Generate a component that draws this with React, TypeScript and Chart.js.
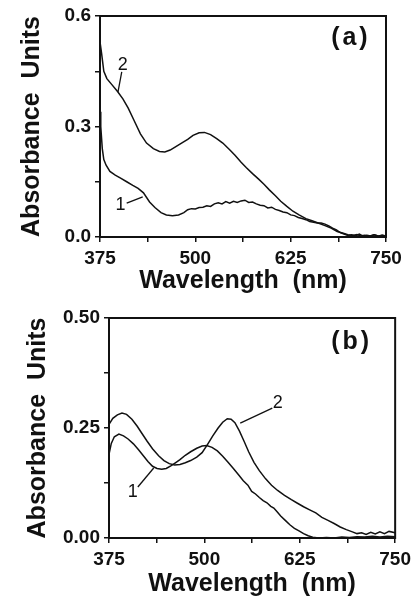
import React, { useEffect, useRef } from "react";
import { Chart, registerables } from "chart.js";

Chart.register(...registerables);

// ---------- Panel (a) ----------
const aWave2 = [375, 377, 380, 384, 390, 398, 405, 412, 420, 428, 436, 445, 453, 460, 467, 475, 483, 490, 497, 505, 512, 520, 528, 536, 545, 552, 560, 567, 575, 583, 590, 597, 605, 612, 620, 628, 636, 645, 653, 661, 670, 678, 686, 694, 700, 706, 712, 716, 722, 728, 734, 740, 745, 750];
const aAbs2 = [0.53, 0.5, 0.45, 0.43, 0.415, 0.395, 0.375, 0.35, 0.315, 0.28, 0.255, 0.24, 0.232, 0.231, 0.236, 0.246, 0.256, 0.265, 0.276, 0.283, 0.284, 0.278, 0.267, 0.255, 0.237, 0.222, 0.203, 0.188, 0.172, 0.157, 0.143, 0.128, 0.112, 0.097, 0.083, 0.07, 0.06, 0.05, 0.044, 0.038, 0.031, 0.024, 0.015, 0.01, 0.006, 0.004, 0.007, 0.003, 0.005, 0.002, 0.006, 0.003, 0.005, 0.003];

const aWave1 = [375, 376, 378, 380, 383, 388, 395, 402, 410, 418, 425, 432, 440, 447, 455, 462, 470, 478, 485, 490, 495, 500, 505, 510, 515, 520, 525, 530, 535, 540, 545, 550, 555, 560, 565, 570, 575, 580, 585, 590, 595, 600, 605, 610, 615, 620, 625, 630, 635, 640, 645, 650, 655, 660, 665, 670, 675, 680, 685, 690, 695, 700, 705, 710, 715, 720, 725, 730, 735, 740, 745, 750];
const aAbs1 = [0.34, 0.3, 0.24, 0.21, 0.195, 0.178, 0.168, 0.16, 0.15, 0.14, 0.132, 0.12, 0.095, 0.08, 0.066, 0.06, 0.058, 0.06, 0.066, 0.074, 0.077, 0.076, 0.08, 0.081, 0.085, 0.083, 0.09, 0.093, 0.09, 0.096, 0.092, 0.097, 0.094, 0.098, 0.1, 0.094, 0.095, 0.09, 0.086, 0.085, 0.079, 0.081, 0.075, 0.072, 0.068, 0.066, 0.06, 0.058, 0.053, 0.05, 0.047, 0.042, 0.04, 0.038, 0.038, 0.035, 0.03, 0.024, 0.019, 0.012, 0.008, 0.004, 0.006, 0.003, 0.008, 0.002, 0.005, 0.003, 0.006, 0.002, 0.005, 0.003];

const aYTickLabels = ["0.0", "0.3", "0.6"];
const aYStep = 0.15;
const aYMax = 0.6;

// ---------- Panel (b) ----------
const bWave2 = [375, 380, 386, 392, 398, 405, 412, 418, 425, 432, 440, 447, 454, 461, 468, 475, 482, 490, 497, 504, 511, 518, 524, 530, 535, 540, 546, 552, 558, 565, 572, 580, 588, 596, 605, 614, 622, 630, 638, 646, 654, 662, 670, 678, 686, 694, 700, 706, 712, 718, 724, 730, 736, 742, 750];
const bAbs2 = [0.258, 0.272, 0.28, 0.284, 0.281, 0.27, 0.254, 0.238, 0.22, 0.203, 0.187, 0.176, 0.169, 0.166, 0.167, 0.171, 0.176, 0.184, 0.194, 0.212, 0.232, 0.25, 0.263, 0.271, 0.27, 0.262, 0.243, 0.22, 0.196, 0.172, 0.153, 0.135, 0.12, 0.108, 0.097, 0.087, 0.079, 0.071, 0.064, 0.057, 0.047, 0.04, 0.033, 0.025, 0.019, 0.014, 0.01, 0.012, 0.008, 0.013, 0.009, 0.014, 0.01, 0.015, 0.012];

const bWave1 = [375, 378, 382, 388, 394, 400, 407, 414, 420, 426, 432, 438, 444, 450, 456, 462, 468, 475, 482, 490, 497, 503, 510, 517, 524, 531, 538, 545, 551, 557, 562, 567, 572, 577, 582, 587, 591, 595, 600, 606, 612, 618, 624, 630, 636, 642, 650, 660, 670, 680, 690, 700, 710, 720, 730, 740, 750];
const bAbs1 = [0.19, 0.215, 0.23, 0.236, 0.232, 0.225, 0.214, 0.2, 0.187, 0.174, 0.163, 0.158, 0.156, 0.158, 0.164, 0.171, 0.178, 0.188, 0.196, 0.204, 0.209, 0.21, 0.206, 0.198, 0.186, 0.172, 0.158, 0.143, 0.13, 0.12, 0.106, 0.1, 0.092, 0.085, 0.08, 0.072, 0.068, 0.06, 0.05, 0.04, 0.03, 0.022, 0.016, 0.01, 0.005, 0.002, 0.0, 0.001, 0.0, 0.002, 0.001, 0.003, 0.002, 0.004, 0.002, 0.004, 0.003];

const bYTickLabels = ["0.00", "0.25", "0.50"];
const bYStep = 0.125;
const bYMax = 0.5;

const xTickLabels = ["375", "500", "625", "750"];
const xMin = 375;
const xMax = 750;
const xStep = 62.5;

// annotations: [text, x, y] and leader lines [x1, y1, x2, y2] in data units
const aLabels: [string, number, number][] = [["2", 405, 0.467], ["1", 402, 0.087]];
const aLeaders: [number, number, number, number][] = [[403.5, 0.448, 398.6, 0.394], [410, 0.092, 431, 0.109]];
const aPanelTag: [string, number, number] = ["(a)", 704, 0.54];

const bLabels: [string, number, number][] = [["2", 596, 0.307], ["1", 406, 0.104]];
const bLeaders: [number, number, number, number][] = [[589, 0.295, 547, 0.261], [412.8, 0.116, 433.6, 0.159]];
const bPanelTag: [string, number, number] = ["(b)", 693, 0.445];

const FONT = "'Liberation Sans', Arial, Helvetica, sans-serif";

function pts(xs: number[], ys: number[]) {
  return xs.map((x, i) => ({ x, y: ys[i] }));
}

function makeConfig(opts: {
  s1: { x: number; y: number }[];
  s2: { x: number; y: number }[];
  yMax: number;
  yStep: number;
  yLabels: string[];
  yDecimals: number;
  yWidth: number;
  xHeight: number;
  padding: { left: number; top: number; right: number; bottom: number };
  yTitlePad: number;
  xTitlePad: number;
  labels: [string, number, number][];
  leaders: [number, number, number, number][];
  tag: [string, number, number];
}) {
  const annot = {
    id: "annot",
    afterDraw(chart: any) {
      const { ctx, chartArea } = chart;
      const xs = chart.scales.x;
      const ys = chart.scales.y;
      ctx.save();
      ctx.strokeStyle = "#111";
      ctx.lineWidth = 2;
      ctx.strokeRect(chartArea.left, chartArea.top, chartArea.right - chartArea.left, chartArea.bottom - chartArea.top);
      ctx.lineWidth = 1.3;
      for (const [x1, y1, x2, y2] of opts.leaders) {
        ctx.beginPath();
        ctx.moveTo(xs.getPixelForValue(x1), ys.getPixelForValue(y1));
        ctx.lineTo(xs.getPixelForValue(x2), ys.getPixelForValue(y2));
        ctx.stroke();
      }
      ctx.fillStyle = "#111";
      ctx.textAlign = "center";
      ctx.textBaseline = "middle";
      ctx.font = `18px ${FONT}`;
      for (const [t, x, y] of opts.labels) {
        ctx.fillText(t, xs.getPixelForValue(x), ys.getPixelForValue(y));
      }
      ctx.font = `bold 25px ${FONT}`;
      try { (ctx as any).letterSpacing = "3px"; } catch (e) {}
      ctx.fillText(opts.tag[0], xs.getPixelForValue(opts.tag[1]), ys.getPixelForValue(opts.tag[2]));
      ctx.restore();
    },
  };
  return {
    type: "scatter" as const,
    data: {
      datasets: [
        { data: opts.s1, showLine: true, borderColor: "#111", borderWidth: 1.5, pointRadius: 0, fill: false, tension: 0 },
        { data: opts.s2, showLine: true, borderColor: "#111", borderWidth: 1.5, pointRadius: 0, fill: false, tension: 0 },
      ],
    },
    options: {
      responsive: false,
      animation: false as const,
      layout: { padding: opts.padding },
      plugins: { legend: { display: false }, tooltip: { enabled: false } },
      scales: {
        x: {
          type: "linear" as const,
          min: xMin,
          max: xMax,
          afterFit(scale: any) { scale.height = opts.xHeight; },
          border: { display: false },
          grid: { drawOnChartArea: false, drawTicks: true, tickLength: 5, color: "#111", lineWidth: 1.5 },
          ticks: {
            stepSize: xStep,
            autoSkip: false,
            maxRotation: 0,
            padding: 5,
            color: "#111",
            font: { family: FONT, size: 19, weight: "bold" as const },
            callback: (v: any) => (xTickLabels.includes(String(v)) ? String(v) : ""),
          },
          title: {
            display: true,
            text: "Wavelength  (nm)",
            color: "#111",
            font: { family: FONT, size: 25, weight: "bold" as const, lineHeight: 1.2 },
            padding: { top: 0, bottom: opts.xTitlePad },
          },
        },
        y: {
          type: "linear" as const,
          min: 0,
          max: opts.yMax,
          afterFit(scale: any) { scale.width = opts.yWidth; },
          border: { display: false },
          grid: { drawOnChartArea: false, drawTicks: true, tickLength: 5, color: "#111", lineWidth: 1.5 },
          ticks: {
            stepSize: opts.yStep,
            autoSkip: false,
            padding: 4,
            color: "#111",
            font: { family: FONT, size: 19, weight: "bold" as const },
            callback: (v: any) => {
              const s = Number(v).toFixed(opts.yDecimals);
              return opts.yLabels.includes(s) ? s : "";
            },
          },
          title: {
            display: true,
            text: "Absorbance  Units",
            color: "#111",
            font: { family: FONT, size: 25, weight: "bold" as const, lineHeight: 1.2 },
            padding: { top: opts.yTitlePad, bottom: 0 },
          },
        },
      },
    },
    plugins: [annot],
  };
}

export default function App() {
  const refA = useRef<HTMLCanvasElement>(null);
  const refB = useRef<HTMLCanvasElement>(null);

  useEffect(() => {
    const cfgA = makeConfig({
      s1: pts(aWave1, aAbs1),
      s2: pts(aWave2, aAbs2),
      yMax: aYMax,
      yStep: aYStep,
      yLabels: aYTickLabels,
      yDecimals: 1,
      yWidth: 100,
      xHeight: 63,
      padding: { left: 0, top: 16, right: 30, bottom: 0 },
      yTitlePad: 17,
      xTitlePad: 4,
      labels: aLabels,
      leaders: aLeaders,
      tag: aPanelTag,
    });
    const cfgB = makeConfig({
      s1: pts(bWave1, bAbs1),
      s2: pts(bWave2, bAbs2),
      yMax: bYMax,
      yStep: bYStep,
      yLabels: bYTickLabels,
      yDecimals: 2,
      yWidth: 109,
      xHeight: 62,
      padding: { left: 0, top: 18, right: 20, bottom: 0 },
      yTitlePad: 23,
      xTitlePad: 1,
      labels: bLabels,
      leaders: bLeaders,
      tag: bPanelTag,
    });
    const chA = new Chart(refA.current as HTMLCanvasElement, cfgA as any);
    const chB = new Chart(refB.current as HTMLCanvasElement, cfgB as any);
    return () => {
      chA.destroy();
      chB.destroy();
    };
  }, []);

  return (
    <div style={{ position: "absolute", left: 0, top: 0, width: 416, height: 600, background: "#fff" }}>
      <canvas ref={refA} width={416} height={300} style={{ position: "absolute", left: 0, top: 0, width: 416, height: 300 }} />
      <canvas ref={refB} width={416} height={300} style={{ position: "absolute", left: 0, top: 300, width: 416, height: 300 }} />
    </div>
  );
}
